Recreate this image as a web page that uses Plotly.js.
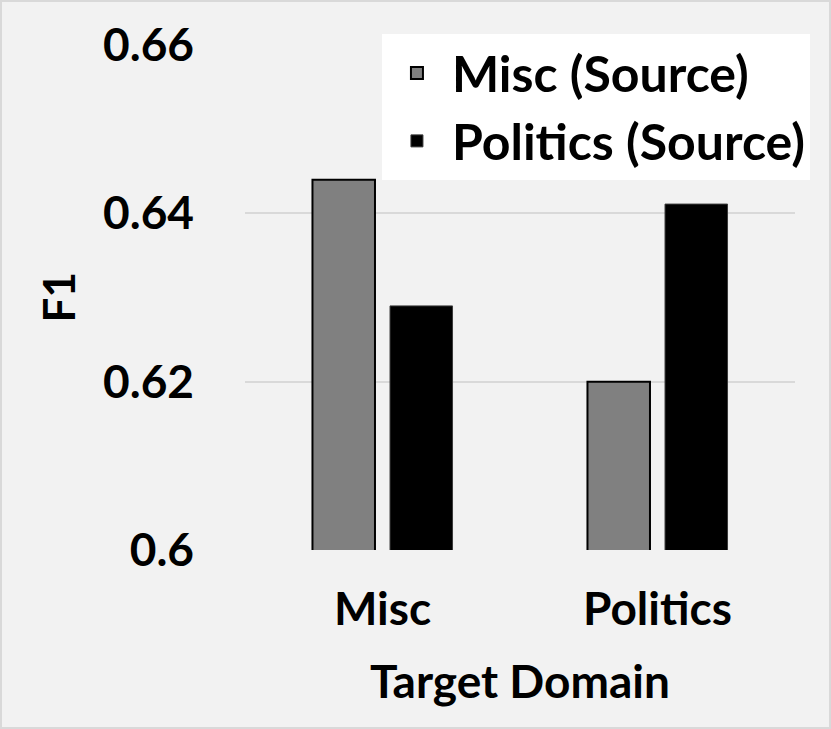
<!DOCTYPE html>
<html>
<head>
<meta charset="utf-8">
<script src="https://cdn.plot.ly/plotly-3.0.1.min.js"></script>
<style>
  body { margin: 0; background: #ffffff; }
  #chart { width: 827px; height: 725px; border: 2px solid #d9d9d9; }
</style>
</head>
<body>
<div id="chart"></div>
<script>
// F1 per target domain, one series per source domain
const targetDomains = ['Misc', 'Politics'];
const miscSource = [0.6440, 0.6200];
const politicsSource = [0.6290, 0.6411];
const yTicks = [0.6, 0.62, 0.64, 0.66];
const yTickLabels = ['0.6', '0.62', '0.64', '0.66'];

const font = 'Lato, "Open Sans", sans-serif';

Plotly.newPlot('chart', [
    {
        name: '<b>Misc (Source)</b>',
        x: targetDomains,
        y: miscSource,
        type: 'bar',
        marker: { color: '#808080', line: { color: '#000000', width: 2 } },
    },
    {
        name: '<b>Politics (Source)</b>',
        x: targetDomains,
        y: politicsSource,
        type: 'bar',
        marker: { color: '#000000', line: { color: '#3a3a3a', width: 1 } },
    },
], {
    width: 827,
    height: 725,
    barmode: 'group',
    bargap: 0.436,
    bargroupgap: 0.194,
    font: { family: font, color: '#000000', size: 46 },
    xaxis: {
        title: { text: '<b>Target Domain</b>', font: { size: 46 } },
        tickfont: { size: 46 },
        tickprefix: '<b>', ticksuffix: '</b>',
        ticklabelstandoff: 28,
        showline: false,
        showgrid: false,
    },
    yaxis: {
        range: [0.6, 0.66],
        tickvals: yTicks,
        ticktext: yTickLabels.map(t => '<b>' + t + '</b>'),
        tickfont: { size: 46 },
        ticklabelstandoff: 50,
        gridcolor: '#d9d9d9',
        gridwidth: 2,
        zeroline: false,
        showline: false,
    },
    annotations: [{
        text: '<b>F1</b>',
        xref: 'paper', yref: 'paper',
        x: -0.391, y: 0.5,
        textangle: -90,
        showarrow: false,
        font: { size: 44 },
    }],
    legend: {
        x: 0.249, y: 1.022,
        xanchor: 'left', yanchor: 'top',
        bgcolor: '#ffffff',
        font: { size: 50 },
        itemwidth: 60,
        traceorder: 'normal',
    },
    margin: { l: 243, r: 34, t: 43, b: 177 },
    paper_bgcolor: '#f2f2f2',
    plot_bgcolor: '#f2f2f2',
    showlegend: true,
}, { staticPlot: true });
</script>
</body>
</html>
